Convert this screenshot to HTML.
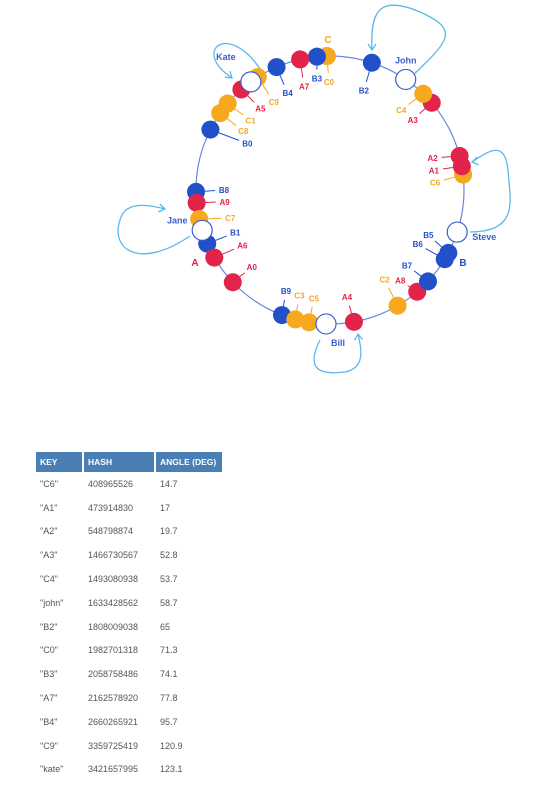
<!DOCTYPE html>
<html><head><meta charset="utf-8"><style>
html,body{margin:0;padding:0;background:#fff;}
body{width:538px;height:786px;position:relative;overflow:hidden;font-family:"Liberation Sans",sans-serif;}
svg{position:absolute;left:0;top:0;}
table{position:absolute;left:34px;top:452px;border-collapse:separate;border-spacing:2px 0;font-size:9px;color:#555;}
th{background:#4a7fb5;color:#fff;font-weight:bold;text-align:left;height:20px;padding:0 4px;font-size:8.5px;}
td{height:23.8px;padding:0 4px;}
</style></head><body>
<svg id="ring" width="538" height="440"></svg>
<table>
<thead><tr><th style="width:38px">KEY</th><th style="width:62px">HASH</th><th style="width:58px">ANGLE (DEG)</th></tr></thead>
<tbody id="tb"></tbody></table>
<script>
// table data
const keys=['"C6"','"A1"','"A2"','"A3"','"C4"','"john"','"B2"','"C0"','"B3"','"A7"','"B4"','"C9"','"kate"'];
const hashes=['408965526','473914830','548798874','1466730567','1493080938','1633428562','1808009038','1982701318','2058758486','2162578920','2660265921','3359725419','3421657995'];
const angleDeg=['14.7','17','19.7','52.8','53.7','58.7','65','71.3','74.1','77.8','95.7','120.9','123.1'];
// ring data (angles as drawn in picture, degrees CCW from east)
const nodeNames=['C6','A1','A2','A3','C4','B2','C0','B3','A7','B4','C9','A5','C1','C8','B0','B8','A9','C7','B1','A6','A0','B9','C3','C5','A4','C2','A8','B7','B6','B5'];
const nodeAngles=[6.6,10.2,14.7,40.6,45.9,71.8,91.3,95.6,102.9,113.5,122.6,131.4,139.8,145,153.2,180.8,185.5,192.5,203.6,210.3,223.5,249,255,261,280.3,300.3,310.6,317,328.9,332];
const serverNames=['Kate','John','Steve','Bill','Jane'];
const serverAngles=[126.2,55.6,341.7,268.3,197.5];
// label placement offsets (layout only)
const labelOffsets={C6:[-28,8],A1:[-28,4],A2:[-27,2],A3:[-19,17],C4:[-22,16],B2:[-8,28],C0:[2,26],B3:[0,22],A7:[4,27],B4:[11,26],C9:[16,25],A5:[19,19],C1:[23,17],C8:[23,18],B0:[37,14],B8:[28,-2],A9:[28,-1],C7:[31,-1],B1:[28,-11],A6:[28,-12],A0:[19,-15],B9:[4,-24],C3:[4,-24],C5:[5,-24],A4:[-7,-25],C2:[-13,-26],A8:[-17,-11],B7:[-21,-16],B6:[-27,-15],B5:[-20,-18]};

const tb=document.getElementById('tb');
for(let i=0;i<keys.length;i++){
  const tr=document.createElement('tr');
  
  
  [keys[i],hashes[i],angleDeg[i]].forEach(v=>{const td=document.createElement('td');td.textContent=v;tr.appendChild(td);});
  tb.appendChild(tr);
}
const NS='http://www.w3.org/2000/svg';
const svg=document.getElementById('ring');
const cx=330,cy=190,R=134;
const colors={A:'#e2234a',B:'#2150c8',C:'#f6a81e'};
const px=(a,r)=>cx+r*Math.cos(a*Math.PI/180);
const py=(a,r)=>cy-r*Math.sin(a*Math.PI/180);
function el(t,at,p){const e=document.createElementNS(NS,t);for(const k in at)e.setAttribute(k,at[k]);(p||svg).appendChild(e);return e;}
const ring=el('circle',{cx,cy,r:R,fill:'none',stroke:'#6b86d9','stroke-width':1.2});


// arrows
const arrows=['M262,72 C230,20 190,50 232,78','M410,78 C450,40 460,30 420,12 C380,-5 370,10 372,50','M470,232 C520,232 510,200 508,170 C505,140 490,150 472,162','M190,236 C140,270 110,250 120,220 C125,200 150,205 165,209','M320,340 C305,370 320,375 345,372 C365,368 362,350 358,334'];
arrows.forEach(d=>{const p=el('path',{d,fill:'none',stroke:'#5bb8ea','stroke-width':1.3});

});
const heads=[[232,78,40],[372,50,90],[472,162,170],[165,209,10],[358,334,-95]];
heads.forEach(h=>{const g=el('path',{d:'M-6,-4 L0,0 L-6,4',fill:'none',stroke:'#5bb8ea','stroke-width':1.3,transform:`translate(${h[0]},${h[1]}) rotate(${h[2]})`});

});
// nodes
nodeNames.forEach((n,i)=>{
  const a=nodeAngles[i],c=colors[n[0]];
  const x=px(a,R),y=py(a,R);
  const o=labelOffsets[n]||[0,0];
  const len=Math.hypot(o[0],o[1]),ux=o[0]/len,uy=o[1]/len;
  const l=el('line',{x1:x+ux*9,y1:y+uy*9,x2:x+ux*(len-9),y2:y+uy*(len-9),stroke:c,'stroke-width':1});
  
  
  const t=el('text',{x:x+o[0],y:y+o[1]+3,fill:c,'font-size':8,'font-weight':'bold','text-anchor':'middle'});
  t.textContent=n;
  
  
});
nodeNames.forEach((n,i)=>{
  const a=nodeAngles[i];
  const c=el('circle',{cx:px(a,R),cy:py(a,R),r:9,fill:colors[n[0]]});
  
  
});
const srvLabelPos=[[-25,-25],[0,-19],[27,5],[12,19],[-25,-10]];
serverNames.forEach((s,i)=>{
  const a=serverAngles[i];
  const x=px(a,R),y=py(a,R);
  const c=el('circle',{cx:x,cy:y,r:10,fill:'#fff',stroke:'#3a5fcc','stroke-width':1.2});
  
  
  const t=el('text',{x:x+srvLabelPos[i][0],y:y+srvLabelPos[i][1]+3,fill:'#3a5fcc','font-size':9,'font-weight':'bold','text-anchor':'middle'});
  t.textContent=s;
  
  
});
[['C',328,43,'#f6a81e'],['A',195,266,'#e2234a'],['B',463,266,'#2150c8']].forEach(g=>{
  const t=el('text',{x:g[1],y:g[2],fill:g[3],'font-size':10,'font-weight':'bold','text-anchor':'middle'});
  t.textContent=g[0];
  
  
});
</script>
</body></html>
